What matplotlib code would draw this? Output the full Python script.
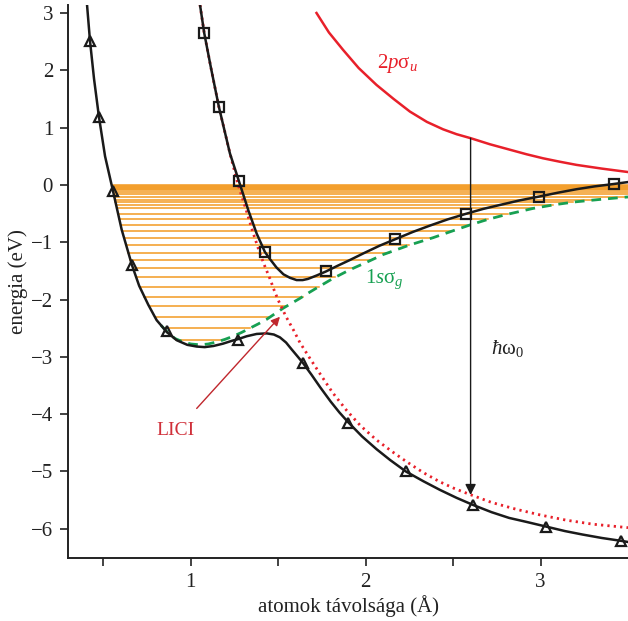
import numpy as np
import matplotlib
matplotlib.use("Agg")
import matplotlib.pyplot as plt

plt.rcParams["font.family"] = ["Liberation Serif", "DejaVu Serif"]
plt.rcParams["mathtext.fontset"] = "custom"
plt.rcParams["mathtext.rm"] = "Liberation Serif"
plt.rcParams["mathtext.it"] = "Liberation Serif:italic"
plt.rcParams["mathtext.bf"] = "Liberation Serif:bold"

# lower dressed curve (triangles) - solid black line
low_x = [0.407, 0.424, 0.447, 0.475, 0.51, 0.555, 0.605, 0.664, 0.705, 0.757,
         0.805, 0.864, 0.92, 0.98, 1.034, 1.08, 1.13, 1.184, 1.235, 1.271,
         1.32, 1.377, 1.434, 1.475, 1.51, 1.545, 1.577, 1.61, 1.64, 1.69,
         1.74, 1.80, 1.85, 1.90, 1.98, 2.062, 2.14, 2.23, 2.33, 2.424,
         2.52, 2.615, 2.72, 2.82, 2.92, 3.03, 3.14, 3.24, 3.35, 3.46, 3.5]
low_y = [3.14, 2.51, 1.85, 1.19, 0.50, -0.10, -0.78, -1.40, -1.76, -2.09,
         -2.36, -2.57, -2.71, -2.79, -2.82, -2.83, -2.81, -2.77, -2.72, -2.69,
         -2.64, -2.60, -2.59, -2.61, -2.66, -2.75, -2.87, -2.99, -3.10, -3.31,
         -3.53, -3.78, -3.97, -4.14, -4.39, -4.61, -4.80, -5.00, -5.17, -5.32,
         -5.46, -5.585, -5.71, -5.81, -5.88, -5.96, -6.04, -6.10, -6.16, -6.21, -6.23]
tri_x = [0.424, 0.475, 0.555, 0.664, 0.864, 1.271, 1.64, 1.90, 2.23, 2.615, 3.03, 3.46]
tri_y = [2.51, 1.19, -0.10, -1.40, -2.55, -2.70, -3.10, -4.15, -5.00, -5.585, -5.96, -6.21]

# upper dressed curve (squares)
up_x = [1.053, 1.077, 1.115, 1.161, 1.224, 1.275, 1.33, 1.377, 1.424, 1.452,
        1.49, 1.53, 1.567, 1.605, 1.64, 1.67, 1.72, 1.773, 1.84, 1.91,
        1.99, 2.08, 2.167, 2.27, 2.367, 2.47, 2.571, 2.67, 2.767, 2.88,
        2.99, 3.10, 3.205, 3.31, 3.42, 3.5]
up_y = [3.14, 2.65, 2.05, 1.36, 0.55, 0.07, -0.45, -0.85, -1.17, -1.29,
        -1.44, -1.56, -1.62, -1.66, -1.66, -1.64, -1.58, -1.51, -1.41, -1.31,
        -1.19, -1.06, -0.95, -0.82, -0.71, -0.60, -0.506, -0.42, -0.35, -0.27,
        -0.204, -0.135, -0.075, -0.025, 0.017, 0.05]
sq_x = [1.077, 1.161, 1.275, 1.424, 1.775, 2.167, 2.571, 2.99, 3.42]
sq_y = [2.65, 1.36, 0.07, -1.17, -1.51, -0.95, -0.506, -0.204, 0.017]

# 2p sigma_u (red solid)
red_x = [1.719, 1.79, 1.871, 1.96, 2.062, 2.16, 2.253, 2.35, 2.443, 2.52,
         2.601, 2.71, 2.824, 2.92, 3.014, 3.11, 3.205, 3.35, 3.5]
red_y = [3.00, 2.66, 2.356, 2.04, 1.745, 1.50, 1.28, 1.10, 0.97, 0.885,
         0.815, 0.71, 0.615, 0.535, 0.465, 0.405, 0.35, 0.285, 0.225]

# 2p sigma_u shifted by one photon (red dotted)
dot_x = [1.053, 1.077, 1.115, 1.161, 1.224, 1.271, 1.315, 1.357, 1.395, 1.425,
         1.452, 1.476, 1.50, 1.545, 1.587, 1.624, 1.68, 1.738, 1.81, 1.89,
         1.97, 2.062, 2.15, 2.234, 2.33, 2.424, 2.51, 2.595, 2.72, 2.862,
         3.0, 3.148, 3.3, 3.5]
dot_y = [3.14, 2.65, 2.05, 1.36, 0.55, 0.0, -0.42, -0.84, -1.19, -1.43,
         -1.63, -1.83, -2.01, -2.30, -2.53, -2.75, -3.02, -3.29, -3.62, -3.93,
         -4.20, -4.45, -4.65, -4.83, -5.02, -5.18, -5.30, -5.40, -5.54, -5.66,
         -5.76, -5.85, -5.92, -5.98]

# 1s sigma_g (green dashed)
grn_x = [0.83, 0.87, 0.91, 0.957, 1.0, 1.053, 1.10, 1.148, 1.195, 1.243,
         1.29, 1.338, 1.386, 1.434, 1.48, 1.529, 1.576, 1.624, 1.67, 1.719,
         1.814, 1.91, 2.005, 2.10, 2.25, 2.386, 2.49, 2.595, 2.70, 2.80,
         2.957, 3.08, 3.2, 3.35, 3.5]
grn_y = [-2.45, -2.58, -2.68, -2.74, -2.775, -2.79, -2.775, -2.74, -2.695, -2.64,
         -2.575, -2.50, -2.425, -2.345, -2.25, -2.15, -2.065, -1.98, -1.89, -1.80,
         -1.63, -1.48, -1.35, -1.215, -1.05, -0.92, -0.81, -0.70, -0.60, -0.52,
         -0.41, -0.345, -0.295, -0.25, -0.21]

# vibrational levels of 1s sigma_g (eV)
levels = [0.0, -0.015, -0.03, -0.05, -0.07, -0.09, -0.12, -0.16, -0.21, -0.26,
          -0.30, -0.35, -0.41, -0.51, -0.60, -0.70, -0.80, -0.92, -1.05, -1.18,
          -1.31, -1.45, -1.61, -1.775, -1.95, -2.12, -2.31, -2.50, -2.70]

photon_x = 2.60
photon_top = 0.815
photon_tip = -5.41

fig = plt.figure(figsize=(6.28, 6.21), dpi=100)
ax = fig.add_axes([0.1088, 0.1014, 0.8912, 0.8906])

# level lines: from the left wall to the green curve
lx = np.array(low_x)
ly = np.array(low_y)
wall = lx < 1.05
gx = np.array(grn_x)
gy = np.array(grn_y)
gmin = np.argmin(gy)
for lev in levels:
    x0 = np.interp(lev, ly[wall][::-1], lx[wall][::-1])
    x1 = np.interp(lev, gy[gmin:], gx[gmin:], right=3.5)
    ax.plot([x0, x1], [lev, lev], color="#f39a22", lw=1.1, zorder=1)

ax.plot(grn_x, grn_y, color="#17a052", lw=2, ls=(0, (3.5, 2.5)), zorder=2)
ax.plot(dot_x, dot_y, color="#e8202a", lw=2, ls=(0, (0.8, 1.5)), zorder=2)
ax.plot(red_x, red_y, color="#e8202a", lw=1.8, zorder=2)
ax.plot(low_x, low_y, color="#1a1a1a", lw=1.8, zorder=3)
ax.plot(up_x, up_y, color="#1a1a1a", lw=1.8, zorder=3)
ax.plot(tri_x, tri_y, ls="none", marker="^", ms=7.5, mfc="none", mec="#1a1a1a", mew=1.6, zorder=4)
ax.plot(sq_x, sq_y, ls="none", marker="s", ms=7.5, mfc="none", mec="#1a1a1a", mew=1.6, zorder=4)

ax.annotate("", xy=(photon_x, photon_tip), xytext=(photon_x, photon_top),
            arrowprops=dict(arrowstyle="-|>", color="#1a1a1a", lw=1.0,
                            mutation_scale=16, shrinkA=0, shrinkB=0), zorder=3)
ax.annotate("", xy=(1.51, -2.30), xytext=(1.034, -3.90),
            arrowprops=dict(arrowstyle="-|>", color="#c0272d", lw=1.0,
                            mutation_scale=13, shrinkA=0, shrinkB=0), zorder=3)

ax.text(2.18, 2.12, r"$2p\mathrm{\sigma}_u$", color="#e8202a", fontsize=15,
        ha="center", va="center")
ax.text(2.105, -1.64, r"$1s\mathrm{\sigma}_g$", color="#17a052", fontsize=15,
        ha="center", va="center")
ax.text(2.81, -2.86, r"$\hbar\mathrm{\omega}_0$", color="#222222", fontsize=15,
        ha="center", va="center")
ax.text(0.915, -4.28, "LICI", color="#d0303a", fontsize=14, ha="center", va="center")

ax.set_xlim(0.3, 3.5)
ax.set_ylim(-6.51, 3.14)
ax.set_xticks([1, 2, 3])
ax.set_xticks([0.5, 1.5, 2.5], minor=True)
ax.set_yticks(range(-6, 4))
ax.set_yticklabels([f"\u2212{abs(v)}" if v < 0 else str(v) for v in range(-6, 4)])
ax.tick_params(which="both", direction="out", length=6, width=1.2,
               labelsize=15, colors="#222222", pad=5)
for side in ["top", "right"]:
    ax.spines[side].set_visible(False)
for side in ["left", "bottom"]:
    ax.spines[side].set_linewidth(1.4)
    ax.spines[side].set_color("#222222")

ax.set_xlabel("atomok távolsága (Å)", fontsize=15, color="#222222", labelpad=2)
ax.set_ylabel("energia (eV)", fontsize=15, color="#222222", labelpad=2)

fig.savefig("out.png", dpi=100)
